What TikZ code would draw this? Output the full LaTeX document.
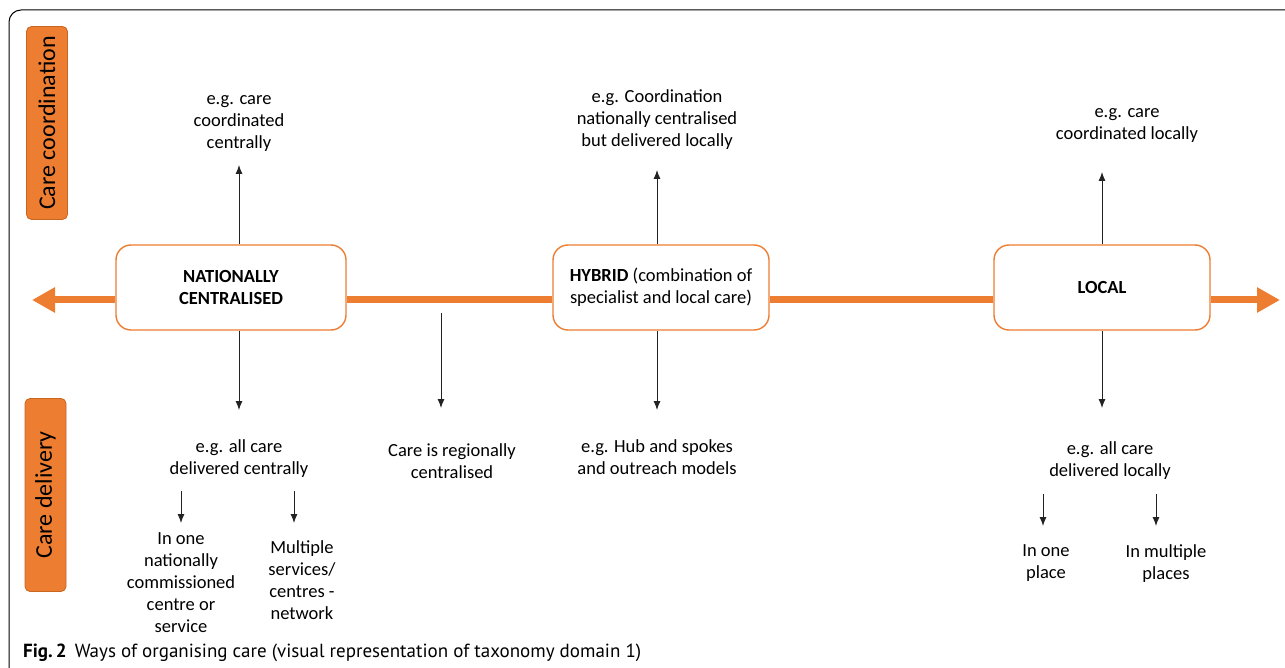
\documentclass[tikz,border=0pt]{standalone}
\usepackage{fontspec}
\setmainfont{Carlito}
\newfontfamily\capfont{PT Sans}
\usetikzlibrary{arrows.meta}
\definecolor{carorange}{HTML}{ED7D31}
\definecolor{carborder}{HTML}{C8651E}
\definecolor{arrgray}{HTML}{222222}
\tikzset{
  body/.style={font=\fontsize{18.5}{22}\selectfont, align=center, inner sep=0pt},
  levelbox/.style={draw=carorange, line width=1.4pt, fill=white, rounded corners=15pt,
    minimum width=230pt, minimum height=85pt, align=center,
    font=\fontsize{18.5}{22}\selectfont},
  sidebox/.style={draw=carborder, line width=0.8pt, fill=carorange, rounded corners=5pt,
    minimum width=193pt, minimum height=41pt, rotate=90,
    font=\fontsize{24}{28}\selectfont},
  axisline/.style={draw=carorange, line width=7pt},
  axistip/.style={draw=carorange, line width=7pt, -{Triangle[length=23pt,width=24pt]}},
  pointer/.style={draw=arrgray, line width=0.9pt, -{Latex[length=9pt,width=7pt]}},
}
\begin{document}
\begin{tikzpicture}[x=1pt, y=-1pt]
\useasboundingbox (0,0) rectangle (1285,668);

% outer frame
\draw[line width=1pt, rounded corners=12pt] (9,668) -- (9,10) -- (1285,10);

% side labels
\node[sidebox] (coord) at (47,123) {Care coordination};
\node[sidebox] (deliv) at (45.5,495) {Care delivery};

% the three levels
\node[levelbox] (nat) at (231,287.5) {\textbf{NATIONALLY}\\\textbf{CENTRALISED}};
\node[levelbox, minimum width=216pt] (hyb) at (661,287.5) {\textbf{HYBRID} (combination of\\specialist and local care)};
\node[levelbox, minimum width=216pt] (loc) at (1102,287.5) {\textbf{LOCAL}};

% main axis
\coordinate (ltip) at (32,300);
\coordinate (rtip) at (1280,300);
\draw[axistip] (nat.west |- ltip) -- (ltip);
\draw[axisline] (nat.east |- ltip) -- (hyb.west |- ltip);
\draw[axisline] (hyb.east |- ltip) -- (loc.west |- ltip);
\draw[axistip] (loc.east |- rtip) -- (rtip);

% texts
\node[body] (t1) at (239,123.5) {e.g. care\\coordinated\\centrally};
\node[body] (t2) at (239,458.5) {e.g. all care\\delivered centrally};
\node[body] (t3) at (181,583) {In one\\nationally\\commissioned\\centre or\\service};
\node[body] (t4) at (302,580) {Multiple\\services/\\centres -\\network};
\node[body] (t5) at (452,461) {Care is regionally\\centralised};
\node[body] (t6) at (657,119.5) {e.g. Coordination\\nationally centralised\\but delivered locally};
\node[body] (t7) at (657,457.5) {e.g. Hub and spokes\\and outreach models};
\node[body] (t8) at (1127,125.5) {e.g. care\\coordinated locally};
\node[body] (t9) at (1110,461) {e.g. all care\\delivered locally};
\node[body] (t10) at (1046,563.5) {In one\\place};
\node[body] (t11) at (1166,563.5) {In multiple\\places};

% arrow end points
\coordinate (a1u) at (239,165);
\coordinate (a1d) at (239,410);
\coordinate (s1a) at (181,491);
\coordinate (s1b) at (181,523);
\coordinate (s2a) at (294,491);
\coordinate (s2b) at (294,523);
\coordinate (r0) at (441,313);
\coordinate (r1) at (441,408);
\coordinate (a2u) at (657,170);
\coordinate (a2d) at (657,410);
\coordinate (a3u) at (1102,172);
\coordinate (a3d) at (1102,408);
\coordinate (s3a) at (1043,494);
\coordinate (s3b) at (1043,526);
\coordinate (s4a) at (1156,494);
\coordinate (s4b) at (1156,526);

% pointers
\draw[pointer] (nat.north -| a1u) -- (a1u);
\draw[pointer] (nat.south -| a1d) -- (a1d);
\draw[pointer] (s1a) -- (s1b);
\draw[pointer] (s2a) -- (s2b);
\draw[pointer] (r0) -- (r1);
\draw[pointer] (hyb.north -| a2u) -- (a2u);
\draw[pointer] (hyb.south -| a2d) -- (a2d);
\draw[pointer] (loc.north) -- (a3u);
\draw[pointer] (loc.south) -- (a3d);
\draw[pointer] (s3a) -- (s3b);
\draw[pointer] (s4a) -- (s4b);

% caption
\node[anchor=base west, inner sep=0pt, font=\capfont\fontsize{19}{22}\selectfont] (cap) at (23,657)
  {\textbf{Fig.\,2}\hspace{8pt}Ways of organising care (visual representation of taxonomy domain 1)};
\end{tikzpicture}
\end{document}
